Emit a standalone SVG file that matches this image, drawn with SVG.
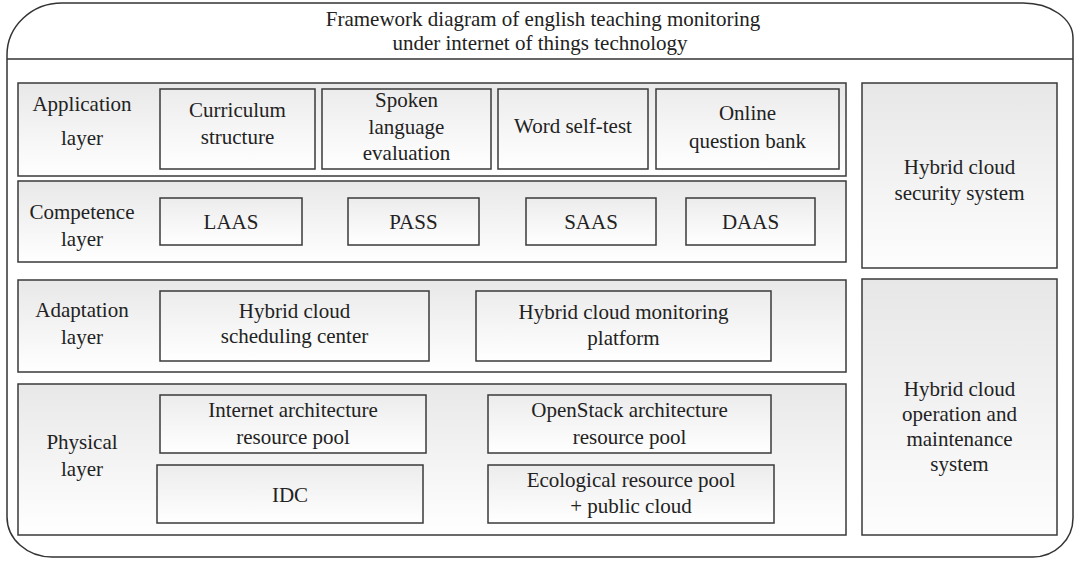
<svg xmlns="http://www.w3.org/2000/svg" width="1075" height="561" viewBox="0 0 1075 561">
<defs>
<linearGradient id="gLayer" x1="0" y1="0" x2="0" y2="1">
<stop offset="0" stop-color="#e8e8e8"/>
<stop offset="1" stop-color="#ffffff"/>
</linearGradient>
<linearGradient id="gBox" x1="0" y1="0" x2="0" y2="1">
<stop offset="0" stop-color="#ececec"/>
<stop offset="1" stop-color="#ffffff"/>
</linearGradient>
<linearGradient id="gSide" x1="0" y1="0" x2="0" y2="1">
<stop offset="0" stop-color="#e7e7e7"/>
<stop offset="1" stop-color="#fdfdfd"/>
</linearGradient>
</defs>
<style>
.layer{fill:url(#gLayer);stroke:#3a3a3a;stroke-width:1.5}
.box{fill:url(#gBox);stroke:#3a3a3a;stroke-width:1.5}
.side{fill:url(#gSide);stroke:#3a3a3a;stroke-width:1.5}
text{font-family:"Liberation Serif","Times New Roman",serif;font-size:21px;fill:#222;text-anchor:middle}
</style>
<g id="frame">
<path d="M7,55 A55,52 0 0 1 62,3 H1023 A50,35 0 0 1 1073,38 V518 A40,39 0 0 1 1033,557 H52 A45,40 0 0 1 7,517 Z" fill="#fff" stroke="#333" stroke-width="1.5"/>
<line x1="7" y1="59" x2="1073" y2="59" stroke="#333" stroke-width="1.5"/>
<text x="543" y="26">Framework diagram of english teaching monitoring</text>
<text x="540" y="50">under internet of things technology</text>
</g>
<g id="connectors"></g>
<g id="application-layer">
<rect class="layer" x="18" y="83" width="828" height="93"/>
<text x="82" y="111">Application</text>
<text x="82" y="145">layer</text>
</g>
<g id="curriculum">
<rect class="box" x="160" y="89" width="155" height="80"/>
<text x="237.5" y="117">Curriculum</text>
<text x="237.5" y="144">structure</text>
</g>
<g id="spoken">
<rect class="box" x="322" y="89" width="169" height="80"/>
<text x="406.5" y="107">Spoken</text>
<text x="406.5" y="133.5">language</text>
<text x="406.5" y="160">evaluation</text>
</g>
<g id="word">
<rect class="box" x="498" y="89" width="150" height="80"/>
<text x="573" y="133">Word self-test</text>
</g>
<g id="online">
<rect class="box" x="656" y="89" width="183" height="80"/>
<text x="747.5" y="120">Online</text>
<text x="747.5" y="148">question bank</text>
</g>
<g id="competence-layer">
<rect class="layer" x="18" y="181" width="828" height="81"/>
<text x="82" y="219">Competence</text>
<text x="82" y="246">layer</text>
</g>
<g id="laas">
<rect class="box" x="160" y="198" width="142" height="47"/>
<text x="231" y="229">LAAS</text>
</g>
<g id="pass">
<rect class="box" x="348" y="198" width="131" height="47"/>
<text x="413.5" y="229">PASS</text>
</g>
<g id="saas">
<rect class="box" x="526" y="198" width="130" height="47"/>
<text x="591" y="229">SAAS</text>
</g>
<g id="daas">
<rect class="box" x="686" y="198" width="129" height="47"/>
<text x="750.5" y="229">DAAS</text>
</g>
<g id="adaptation-layer">
<rect class="layer" x="18" y="280" width="828" height="92"/>
<text x="82" y="317">Adaptation</text>
<text x="82" y="344">layer</text>
</g>
<g id="scheduling">
<rect class="box" x="160" y="291" width="269" height="70"/>
<text x="294.5" y="318">Hybrid cloud</text>
<text x="294.5" y="343">scheduling center</text>
</g>
<g id="monitoring">
<rect class="box" x="476" y="291" width="295" height="70"/>
<text x="623.5" y="319">Hybrid cloud monitoring</text>
<text x="623.5" y="345">platform</text>
</g>
<g id="physical-layer">
<rect class="layer" x="18" y="384" width="828" height="151"/>
<text x="82" y="449">Physical</text>
<text x="82" y="476">layer</text>
</g>
<g id="internet-pool">
<rect class="box" x="160" y="395" width="266" height="58"/>
<text x="293" y="417">Internet architecture</text>
<text x="293" y="444">resource pool</text>
</g>
<g id="openstack-pool">
<rect class="box" x="488" y="395" width="283" height="58"/>
<text x="629.5" y="417">OpenStack architecture</text>
<text x="629.5" y="444">resource pool</text>
</g>
<g id="idc">
<rect class="box" x="157" y="465" width="266" height="58"/>
<text x="290" y="502">IDC</text>
</g>
<g id="ecological-pool">
<rect class="box" x="488" y="465" width="286" height="58"/>
<text x="631" y="487">Ecological resource pool</text>
<text x="631" y="513">+ public cloud</text>
</g>
<g id="security-system">
<rect class="side" x="862" y="83" width="195" height="185"/>
<text x="959.5" y="174">Hybrid cloud</text>
<text x="959.5" y="200">security system</text>
</g>
<g id="operation-system">
<rect class="side" x="862" y="279" width="195" height="256"/>
<text x="959.5" y="396">Hybrid cloud</text>
<text x="959.5" y="421">operation and</text>
<text x="959.5" y="446">maintenance</text>
<text x="959.5" y="471">system</text>
</g>
</svg>
